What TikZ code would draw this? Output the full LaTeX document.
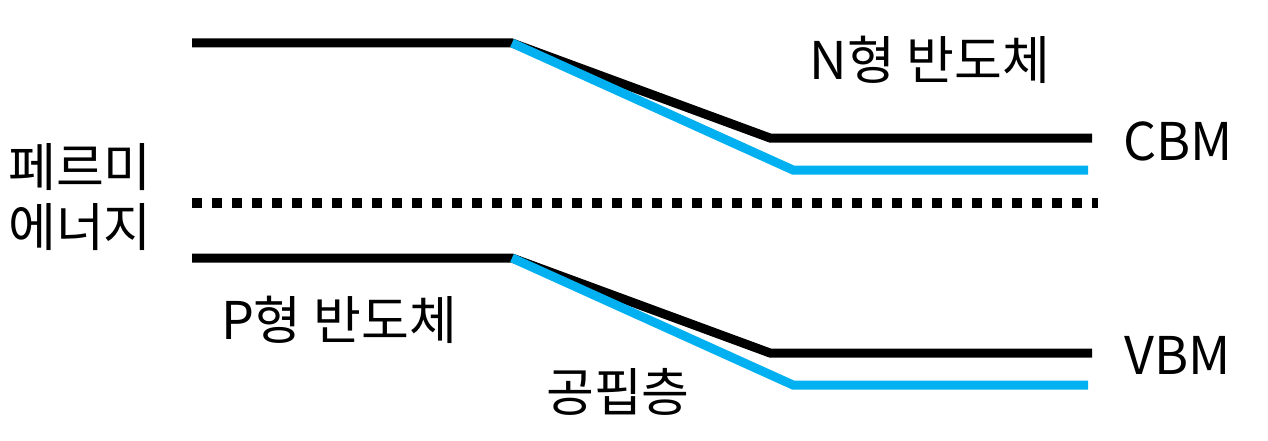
\documentclass[tikz,border=0pt]{standalone}
\usepackage{fontspec}
\newfontfamily\krfont{Noto Sans CJK KR}
\usepackage{tikz}
\usetikzlibrary{positioning, calc}
\definecolor{bandblue}{RGB}{0,176,240}

\begin{document}
\begin{tikzpicture}[x=1pt, y=-1pt, font=\krfont\fontsize{52}{62}\selectfont,
		band/.style={line width=9pt, line join=miter},
		fermi/.style={line width=10pt, dash pattern=on 10pt off 10pt},
		lbl/.style={inner sep=0pt, align=center}]
		\useasboundingbox (0,0) rectangle (1268,441);
		
		% 전도대
		\coordinate (c0) at (192,43);
		\coordinate (c1) at (512,43);
		\coordinate (c2) at (770,138);
		\coordinate (c3) at (1092,138);
		\coordinate (cb2) at (793,170);
		\coordinate (cb3) at (1088,170);
		\draw[band] (c0) -- (c1) -- (c2) -- (c3);
		\draw[band, bandblue] (c1) -- (cb2) -- (cb3);
		
		% 가전자대
		\coordinate (v0) at (192,258);
		\coordinate (v1) at (512,258);
		\coordinate (v2) at (770,353);
		\coordinate (v3) at (1092,353);
		\coordinate (vb2) at (793,385);
		\coordinate (vb3) at (1088,385);
		\draw[band] (v0) -- (v1) -- (v2) -- (v3);
		\draw[band, bandblue] (v1) -- (vb2) -- (vb3);
		
		% 페르미 준위
		\coordinate (f0) at (192,203);
		\coordinate (f1) at (1098,203);
		\draw[fermi] (f0) -- (f1);
		
		% 글자
		\node[lbl] (ntype) at (930,60) {N형 반도체};
		\node[lbl] (cbm) at (1178,141) {CBM};
		\node[lbl] (vbm) at (1178,355) {VBM};
		\node[lbl] (ptype) at (339,320) {P형 반도체};
		\node[lbl] (depl) at (618,392) {공핍층};
		\node[lbl, align=left] (fermilbl) at (80,197) {페르미\\[-2pt]에너지};
	\end{tikzpicture}
\end{document}
